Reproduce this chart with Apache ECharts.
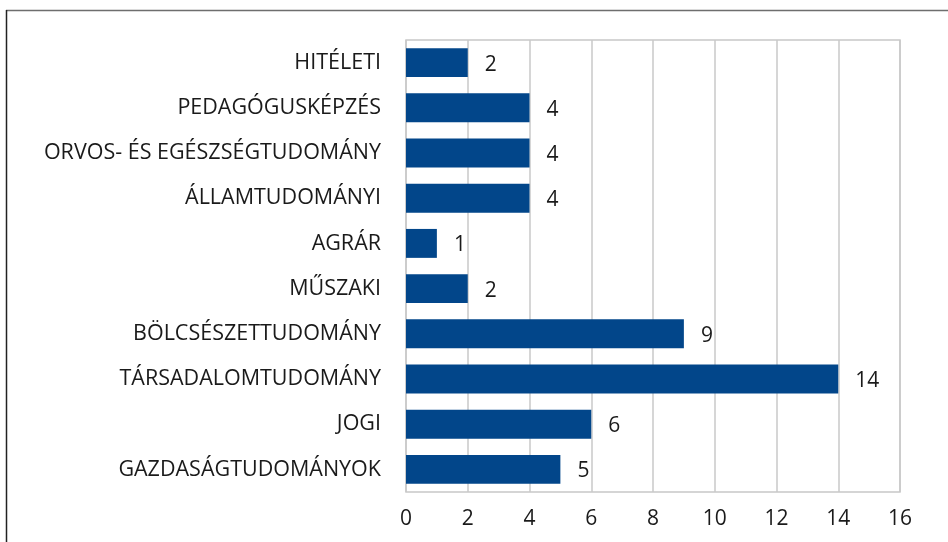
<!DOCTYPE html>
<html>
<head>
<meta charset="utf-8">
<script src="https://cdn.jsdelivr.net/npm/echarts@6/dist/echarts.min.js"></script>
<style>
  html, body { margin: 0; padding: 0; background: #fff; }
  #chart { width: 948px; height: 542px; }
</style>
</head>
<body>
<div id="chart"></div>
<script>
const categories = [
  'HITÉLETI',
  'PEDAGÓGUSKÉPZÉS',
  'ORVOS- ÉS EGÉSZSÉGTUDOMÁNY',
  'ÁLLAMTUDOMÁNYI',
  'AGRÁR',
  'MŰSZAKI',
  'BÖLCSÉSZETTUDOMÁNY',
  'TÁRSADALOMTUDOMÁNY',
  'JOGI',
  'GAZDASÁGTUDOMÁNYOK'
]
const values = [2, 4, 4, 4, 1, 2, 9, 14, 6, 5]
const xTicks = [0, 2, 4, 6, 8, 10, 12, 14, 16]

const font = '"Open Sans", sans-serif'
const myChart = echarts.init(document.getElementById('chart'))
myChart.setOption({
  animation: false,
  backgroundColor: '#fff',
  graphic: [
    { type: 'line', shape: { x1: 6, y1: 10.5, x2: 948, y2: 10.5 }, style: { stroke: '#6e6e6e', lineWidth: 1.5 } },
    { type: 'line', shape: { x1: 6.5, y1: 10, x2: 6.5, y2: 542 }, style: { stroke: '#222', lineWidth: 1.5 } }
  ],
  grid: {
    left: 406,
    right: 48,
    top: 40,
    bottom: 50,
    show: true,
    borderColor: '#c8c8c8',
    borderWidth: 1.5
  },
  xAxis: {
    type: 'value',
    min: xTicks[0],
    max: xTicks[xTicks.length - 1],
    interval: 2,
    axisLine: { show: false },
    axisTick: { show: false },
    splitLine: { lineStyle: { color: '#c8c8c8', width: 1.5 } },
    axisLabel: { color: '#1a1a1a', fontFamily: font, fontSize: 21, margin: 17 }
  },
  yAxis: {
    type: 'category',
    inverse: true,
    data: categories,
    axisLine: { show: false },
    axisTick: { show: false },
    axisLabel: { color: '#1a1a1a', fontFamily: font, fontSize: 21.5, margin: 25 }
  },
  series: [
    {
      type: 'bar',
      data: values,
      barCategoryGap: '36%',
      itemStyle: { color: '#02468a' },
      label: {
        show: true,
        position: 'right',
        distance: 17,
        offset: [0, 2],
        color: '#1a1a1a',
        fontFamily: font,
        fontSize: 21
      }
    }
  ]
})
</script>
</body>
</html>
